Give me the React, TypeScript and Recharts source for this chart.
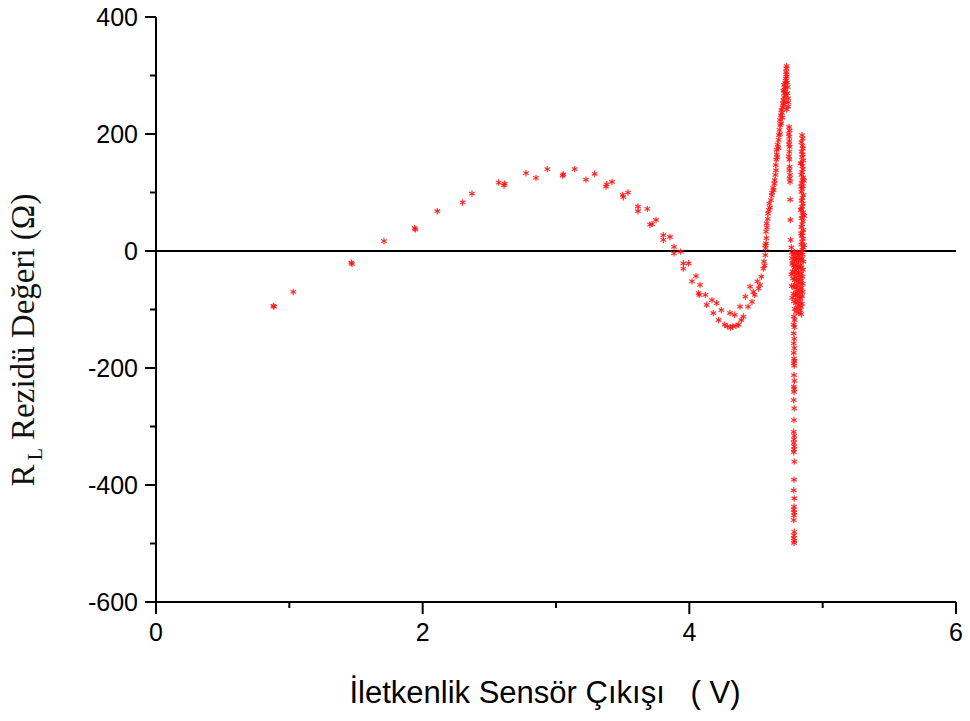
import React from 'react';
import { ScatterChart, Scatter, XAxis, YAxis, ReferenceLine } from 'recharts';

// axis ticks (labels only on the even ones)
const xTicks = [0, 1, 2, 3, 4, 5, 6];
const yTicks = [-600, -500, -400, -300, -200, -100, 0, 100, 200, 300, 400];

// sparse arc, 0.9 V .. 3.7 V
const lowArc = [
  [0.88, -94], [0.885, -95], [1.03, -70], [1.465, -20], [1.47, -22], [1.71, 17], [1.94, 39], [1.945, 37],
  [2.11, 68], [2.30, 83], [2.37, 98], [2.57, 117], [2.61, 112], [2.615, 115], [2.775, 133], [2.85, 125],
  [2.935, 140], [3.05, 129], [3.055, 131], [3.14, 140], [3.225, 122], [3.29, 132], [3.375, 110], [3.38, 114],
  [3.42, 118], [3.50, 96], [3.505, 92], [3.54, 100], [3.615, 76], [3.615, 68], [3.685, 72], [3.705, 45],
];

// descent and trough, 3.7 V .. 4.57 V
const trough = [
  [3.72, 46], [3.75, 53], [3.805, 27], [3.805, 19], [3.855, 24], [3.885, 7], [3.885, -4], [3.935, -1],
  [3.955, -21], [3.955, -30], [3.995, -21], [4.02, -52], [4.05, -43], [4.07, -72], [4.08, -58], [4.075, -75],
  [4.12, -75], [4.13, -92], [4.17, -84], [4.18, -106], [4.205, -89], [4.22, -118], [4.24, -101], [4.265, -126],
  [4.285, -129], [4.305, -106], [4.31, -131], [4.325, -129], [4.34, -109], [4.35, -128], [4.37, -126], [4.38, -95],
  [4.39, -118], [4.405, -112], [4.42, -78], [4.44, -95], [4.455, -61], [4.47, -87], [4.48, -70], [4.49, -75],
  [4.51, -52], [4.52, -64], [4.53, -58], [4.54, -44], [4.555, -30], [4.56, -18], [4.565, -25], [4.57, -7], [4.57, 10],
];

// steep rise up to the 4.73 V peak
const riseBranch = [
  [4.572, 5], [4.575, 13], [4.578, 22], [4.575, 33], [4.582, 40], [4.58, 47], [4.588, 55], [4.59, 64],
  [4.596, 70], [4.60, 81], [4.605, 74], [4.612, 87], [4.618, 95], [4.62, 100], [4.628, 108], [4.632, 104],
  [4.64, 121], [4.638, 115], [4.645, 130], [4.65, 138], [4.648, 147], [4.652, 156], [4.656, 165], [4.66, 160],
  [4.655, 173], [4.662, 182], [4.668, 176], [4.67, 190], [4.672, 198], [4.676, 207], [4.68, 200], [4.682, 215],
  [4.68, 224], [4.688, 218], [4.686, 232], [4.69, 241], [4.695, 236], [4.698, 228], [4.70, 245], [4.702, 252],
  [4.705, 258], [4.708, 250], [4.71, 263], [4.712, 270], [4.706, 274], [4.715, 276], [4.718, 280], [4.712, 284],
  [4.72, 287], [4.725, 291], [4.722, 295], [4.73, 298], [4.728, 302], [4.726, 306], [4.732, 288], [4.738, 280],
  [4.735, 270], [4.74, 261], [4.742, 254], [4.74, 247], [4.73, 316], [4.728, 312], [4.724, 266], [4.716, 255], [4.73, 242],
];

// thin column at ~4.75 V
const columnA = [
  [4.748, 212], [4.752, 206], [4.746, 200], [4.75, 195], [4.75, 188], [4.748, 182], [4.752, 178], [4.75, 170],
  [4.747, 162], [4.75, 156], [4.752, 144], [4.75, 138], [4.755, 130], [4.752, 124], [4.755, 118], [4.756, 88],
  [4.758, 53], [4.76, 19], [4.765, 6],
];

// dense column at ~4.85 V above zero
const columnB = [
  [4.845, 198], [4.85, 192], [4.84, 186], [4.848, 180], [4.852, 175], [4.842, 170], [4.85, 165], [4.845, 160],
  [4.855, 155], [4.84, 150], [4.848, 145], [4.852, 140], [4.845, 135], [4.84, 130], [4.855, 126], [4.848, 121],
  [4.842, 116], [4.852, 111], [4.846, 106], [4.84, 101], [4.855, 96], [4.848, 91], [4.842, 86], [4.852, 81],
  [4.846, 76], [4.84, 71], [4.855, 66], [4.848, 61], [4.842, 56], [4.852, 51], [4.846, 46], [4.84, 41],
  [4.855, 36], [4.848, 31], [4.842, 26], [4.852, 21], [4.846, 16], [4.84, 11], [4.855, 6], [4.848, 2],
  [4.835, 150], [4.838, 110], [4.836, 70], [4.838, 30], [4.86, 120], [4.862, 60], [4.86, 10],
];

// packed band just below zero
const band = [
  [4.77, -3], [4.78, -6], [4.79, -2], [4.80, -5], [4.81, -3], [4.82, -8], [4.83, -4], [4.84, -2], [4.85, -6],
  [4.77, -12], [4.785, -15], [4.795, -11], [4.805, -14], [4.815, -18], [4.825, -12], [4.835, -16], [4.845, -13], [4.855, -18],
  [4.772, -22], [4.782, -25], [4.792, -28], [4.802, -23], [4.812, -27], [4.822, -30], [4.832, -24], [4.842, -28], [4.852, -32],
  [4.775, -35], [4.788, -38], [4.798, -33], [4.808, -40], [4.818, -36], [4.828, -42], [4.838, -38], [4.848, -44],
  [4.778, -47], [4.79, -50], [4.80, -45], [4.81, -52], [4.82, -48], [4.83, -55], [4.84, -50], [4.85, -56],
  [4.78, -60], [4.792, -63], [4.802, -58], [4.812, -66], [4.822, -61], [4.832, -68], [4.842, -63], [4.85, -70],
  [4.782, -73], [4.795, -76], [4.805, -71], [4.815, -79], [4.825, -74], [4.835, -81], [4.845, -77],
  [4.785, -86], [4.798, -89], [4.808, -84], [4.818, -92], [4.828, -87], [4.838, -95], [4.846, -90],
  [4.79, -99], [4.80, -104], [4.812, -97], [4.822, -106], [4.832, -101], [4.84, -108],
  [4.785, -112], [4.79, -118], [4.775, -20], [4.765, -40], [4.768, -60], [4.772, -80],
];

// long drop down to -500
const tail = [
  [4.783, -126], [4.788, -130], [4.783, -141], [4.787, -150], [4.783, -158], [4.787, -166], [4.783, -174],
  [4.785, -184], [4.788, -188], [4.783, -192], [4.787, -196], [4.785, -212], [4.788, -222], [4.783, -232],
  [4.787, -236], [4.785, -241], [4.783, -255], [4.787, -269], [4.785, -289], [4.783, -309], [4.787, -316],
  [4.785, -322], [4.783, -328], [4.787, -334], [4.785, -339], [4.783, -344], [4.787, -360], [4.785, -391],
  [4.783, -409], [4.787, -423], [4.785, -437], [4.783, -442], [4.787, -447], [4.785, -452], [4.783, -460],
  [4.787, -480], [4.785, -486], [4.783, -491], [4.787, -496], [4.785, -499],
];

const points = [...lowArc, ...trough, ...riseBranch, ...columnA, ...columnB, ...band, ...tail]
  .map(([x, y]) => ({ x, y }));

const RED = '#ff1414';

// origin-style asterisk marker
const Star = (props: any) => {
  const { cx, cy } = props;
  const r = 3.2;
  const dx = r * 0.87;
  const dy = r * 0.5;
  return (
    <g stroke={RED} strokeWidth={1.2} strokeOpacity={0.85}>
      <line x1={cx} y1={cy - r} x2={cx} y2={cy + r} />
      <line x1={cx - dx} y1={cy - dy} x2={cx + dx} y2={cy + dy} />
      <line x1={cx - dx} y1={cy + dy} x2={cx + dx} y2={cy - dy} />
    </g>
  );
};

const tickFont = { fontFamily: '"Liberation Sans", Arial, sans-serif', fontSize: 25, fill: '#000' };

const YTick = (props: any) => {
  const { x, y, payload } = props;
  const major = payload.value % 200 === 0;
  return (
    <g>
      <line x1={x - (major ? 11 : 6)} x2={x} y1={y} y2={y} stroke="#000" strokeWidth={2} />
      {major && (
        <text x={x - 18} y={y} dy="0.36em" textAnchor="end" {...tickFont}>
          {payload.value}
        </text>
      )}
    </g>
  );
};

const XTick = (props: any) => {
  const { x, y, payload } = props;
  const major = payload.value % 2 === 0;
  return (
    <g>
      <line x1={x} x2={x} y1={y} y2={y + (major ? 12 : 6)} stroke="#000" strokeWidth={2} />
      {major && (
        <text x={x} y={y + 39} textAnchor="middle" {...tickFont}>
          {payload.value}
        </text>
      )}
    </g>
  );
};

const YTitle = () => (
  <text
    x={34}
    y={340}
    transform="rotate(-90, 34, 340)"
    textAnchor="middle"
    fontFamily='"Liberation Serif", "Times New Roman", serif'
    fontSize={33}
    fill="#111"
  >
    R
    <tspan fontSize={20} dx={4} dy={8}>L</tspan>
    <tspan dy={-8}> Rezidü Değeri (Ω)</tspan>
  </text>
);

const XTitle = () => (
  <text
    x={545}
    y={703}
    textAnchor="middle"
    fontFamily='"Liberation Sans", Arial, sans-serif'
    fontSize={31}
    fill="#000"
    style={{ whiteSpace: 'pre' }}
  >
    {'İletkenlik Sensör Çıkışı   ( V)'}
  </text>
);

export default function App() {
  return (
    <div style={{ position: 'absolute', left: 0, top: 0 }}>
      <ScatterChart width={970} height={721} margin={{ top: 17, right: 14, bottom: 0, left: 0 }}>
        <XAxis
          type="number"
          dataKey="x"
          domain={[0, 6]}
          ticks={xTicks}
          height={119}
          axisLine={{ stroke: '#000', strokeWidth: 2 }}
          tickLine={false}
          tickSize={0}
          tickMargin={0}
          tick={<XTick />}
          interval={0}
          label={{ content: () => <XTitle /> }}
        />
        <YAxis
          type="number"
          dataKey="y"
          domain={[-600, 400]}
          ticks={yTicks}
          width={156}
          axisLine={{ stroke: '#000', strokeWidth: 2 }}
          tickLine={false}
          tickSize={0}
          tickMargin={0}
          tick={<YTick />}
          interval={0}
          label={{ content: () => <YTitle /> }}
        />
        <ReferenceLine y={0} stroke="#000" strokeWidth={2} />
        <Scatter data={points} shape={<Star />} isAnimationActive={false} />
      </ScatterChart>
    </div>
  );
}
